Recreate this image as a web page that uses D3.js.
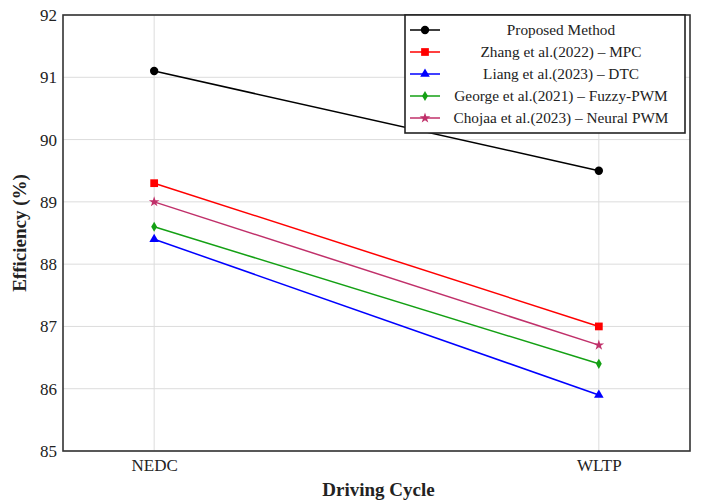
<!DOCTYPE html>
<html>
<head>
<meta charset="utf-8">
<script src="https://cdn.jsdelivr.net/npm/d3@7"></script>
<style>
	body { margin: 0; background: #fff; }
	svg text { font-family: "Liberation Serif", "DejaVu Serif", serif; fill: #222; }
</style>
</head>
<body>
<div id="chart"></div>
<script>
var cycles = ['NEDC', 'WLTP'];
var seriesNames = [
	'Proposed Method',
	'Zhang et al.(2022) \u2013 MPC',
	'Liang et al.(2023) \u2013 DTC',
	'George et al.(2021) \u2013 Fuzzy-PWM',
	'Chojaa et al.(2023) \u2013 Neural PWM'
];
var proposed = [91.1, 89.5];
var zhang = [89.3, 87.0];
var liang = [88.4, 85.9];
var george = [88.6, 86.4];
var chojaa = [89.0, 86.7];
var yTicks = [85, 86, 87, 88, 89, 90, 91, 92];

var colors = ['#000000', '#ff0000', '#0000ff', '#14a014', '#c0306a'];
var markers = ['circle', 'square', 'triangle', 'diamond', 'star'];
var allValues = [proposed, zhang, liang, george, chojaa];

var width = 703, height = 502;
var margin = { top: 15, right: 13, bottom: 51, left: 63 };
var innerW = width - margin.left - margin.right;
var innerH = height - margin.top - margin.bottom;

var svg = d3.select('#chart').append('svg')
	.attr('width', width)
	.attr('height', height);

var g = svg.append('g')
	.attr('transform', 'translate(' + margin.left + ',' + margin.top + ')');

var x = d3.scalePoint()
	.domain(cycles)
	.range([0, innerW])
	.padding(0.205);

var y = d3.scaleLinear()
	.domain([85, 92])
	.range([innerH, 0]);

// grid
g.append('g')
	.selectAll('line.hgrid')
	.data(yTicks)
	.enter()
	.append('line')
	.attr('x1', 0).attr('x2', innerW)
	.attr('y1', function(d) { return y(d); })
	.attr('y2', function(d) { return y(d); })
	.attr('stroke', '#dcdcdc').attr('stroke-width', 1);

g.append('g')
	.selectAll('line.vgrid')
	.data(cycles)
	.enter()
	.append('line')
	.attr('y1', 0).attr('y2', innerH)
	.attr('x1', function(d) { return x(d); })
	.attr('x2', function(d) { return x(d); })
	.attr('stroke', '#dcdcdc').attr('stroke-width', 1);

// axes
var yAxis = g.append('g')
	.call(d3.axisLeft(y).tickValues(yTicks).tickFormat(d3.format('d')).tickSize(0).tickPadding(6));
yAxis.select('.domain').remove();
yAxis.selectAll('text').attr('font-size', 17);

var xAxis = g.append('g')
	.attr('transform', 'translate(0,' + innerH + ')')
	.call(d3.axisBottom(x).tickSize(0).tickPadding(8));
xAxis.select('.domain').remove();
xAxis.selectAll('text').attr('font-size', 17);

// series
var symbolTypes = {
	circle: d3.symbolCircle,
	square: d3.symbolSquare,
	triangle: d3.symbolTriangle,
	diamond: d3.symbolDiamond,
	star: d3.symbolStar
};
var symbolSizes = { circle: 55, square: 60, triangle: 40, diamond: 30, star: 35 };

var line = d3.line()
	.x(function(d, i) { return x(cycles[i]); })
	.y(function(d) { return y(d); });

allValues.forEach(function(values, s) {
	g.append('path')
		.datum(values)
		.attr('d', line)
		.attr('fill', 'none')
		.attr('stroke', colors[s])
		.attr('stroke-width', 1.5);
	g.selectAll('path.m' + s)
		.data(values)
		.enter()
		.append('path')
		.attr('class', 'm' + s)
		.attr('transform', function(d, i) { return 'translate(' + x(cycles[i]) + ',' + y(d) + ')'; })
		.attr('d', d3.symbol().type(symbolTypes[markers[s]]).size(symbolSizes[markers[s]]))
		.attr('fill', colors[s]);
});

// frame
g.append('rect')
	.attr('width', innerW).attr('height', innerH)
	.attr('fill', 'none')
	.attr('stroke', '#333').attr('stroke-width', 1.6);

// legend
var legend = svg.append('g')
	.attr('transform', 'translate(405,15)');
legend.append('rect')
	.attr('width', 280).attr('height', 118)
	.attr('fill', '#fff')
	.attr('stroke', '#222').attr('stroke-width', 1.6);

var items = legend.selectAll('g.item')
	.data(seriesNames)
	.enter()
	.append('g')
	.attr('transform', function(d, i) { return 'translate(0,' + (15 + i * 22) + ')'; });
items.append('line')
	.attr('x1', 5).attr('x2', 35)
	.attr('stroke', function(d, i) { return colors[i]; })
	.attr('stroke-width', 1.5);
items.append('path')
	.attr('transform', 'translate(20,0)')
	.attr('d', function(d, i) { return d3.symbol().type(symbolTypes[markers[i]]).size(symbolSizes[markers[i]])(); })
	.attr('fill', function(d, i) { return colors[i]; });
items.append('text')
	.attr('x', 156)
	.attr('dy', '0.35em')
	.attr('text-anchor', 'middle')
	.attr('font-size', 15.3)
	.text(function(d) { return d; });

// axis titles
svg.append('text')
	.attr('x', margin.left + innerW / 2 + 2)
	.attr('y', 496)
	.attr('text-anchor', 'middle')
	.attr('font-size', 19)
	.attr('font-weight', 'bold')
	.text('Driving Cycle');

svg.append('text')
	.attr('transform', 'translate(26,' + (margin.top + innerH / 2) + ') rotate(-90)')
	.attr('text-anchor', 'middle')
	.attr('font-size', 19)
	.attr('font-weight', 'bold')
	.text('Efficiency (%)');
</script>
</body>
</html>
